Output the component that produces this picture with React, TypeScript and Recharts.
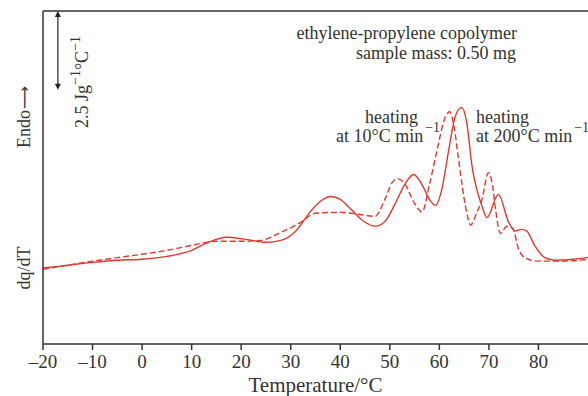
import React from 'react';
import { LineChart, Line, XAxis, YAxis, ReferenceLine } from 'recharts';

// temperature (°C) and dq/dT (J g-1 °C-1, arbitrary offset)
const slowTemps = [-20, -15, -10, -5, 0, 5, 10, 13, 17, 21, 25, 28, 31, 34, 36, 38, 40, 42, 44.5, 47, 49, 51, 53, 54.8, 56.5, 58, 59.2, 60.5, 61.9, 63.2, 64.5, 65.5, 66.6, 68.6, 69.6, 71.9, 74, 75.3, 76.5, 77.6, 79.3, 81.3, 83.4, 87, 90];
const slowValues = [2.41, 2.5, 2.59, 2.66, 2.69, 2.78, 2.97, 3.2, 3.39, 3.32, 3.23, 3.29, 3.58, 4.21, 4.53, 4.68, 4.59, 4.3, 3.92, 3.74, 3.89, 4.43, 5.06, 5.38, 5.06, 4.59, 4.4, 4.91, 6.17, 7.22, 7.51, 7.05, 5.64, 4.38, 4.01, 4.75, 3.86, 3.59, 3.64, 3.59, 3.11, 2.74, 2.66, 2.69, 2.75];

const fastTemps = [-20, -15, -10, -5, 0, 5, 10, 15, 20, 24, 28, 32, 35, 40, 44, 47, 49, 50.5, 51.5, 53, 55, 56.5, 58, 59.6, 61, 62.1, 63, 63.8, 65.4, 66.3, 67.5, 68.6, 69.9, 70.7, 71.4, 72.3, 73.6, 74.8, 76, 77.5, 80, 85, 90];
const fastValues = [2.37, 2.5, 2.63, 2.74, 2.85, 2.97, 3.13, 3.26, 3.26, 3.29, 3.54, 3.86, 4.15, 4.18, 4.11, 4.05, 4.59, 5.13, 5.25, 5.09, 4.46, 4.19, 5.06, 6.2, 7.12, 7.37, 6.87, 5.95, 4.27, 3.77, 4.15, 4.59, 5.44, 5.06, 4.21, 3.51, 3.73, 3.67, 3.01, 2.72, 2.63, 2.63, 2.69];

const xTicks = [-20, -10, 0, 10, 20, 30, 40, 50, 60, 70, 80];
const yMax = 10.57;
const scaleBar = 2.5;

const slowData = slowTemps.map((t, i) => ({ t, v: slowValues[i] }));
const fastData = fastTemps.map((t, i) => ({ t, v: fastValues[i] }));

const RED = '#e8352d';
const INK = '#333';
const FONT = '"Liberation Serif", "DejaVu Serif", serif';

const ScaleArrow = (props: any) => {
  const { x1, y1, x2, y2 } = props;
  const h = 6;
  const w = 3;
  const top = Math.min(y1, y2);
  const bot = Math.max(y1, y2);
  return (
    <g>
      <line x1={x1} y1={top + 2} x2={x2} y2={bot - 2} stroke="#222" strokeWidth={1.2} />
      <polygon points={`${x1},${top} ${x1 - w},${top + h} ${x1 + w},${top + h}`} fill="#222" />
      <polygon points={`${x1},${bot} ${x1 - w},${bot - h} ${x1 + w},${bot - h}`} fill="#222" />
    </g>
  );
};

export default function App() {
  return (
    <div style={{ position: 'absolute', left: 0, top: 0, width: 588, height: 396, background: '#fff', fontFamily: FONT }}>
      <LineChart width={588} height={396} margin={{ top: 11, right: 0, bottom: 0, left: 0 }}>
        <XAxis
          dataKey="t"
          type="number"
          domain={[-20, 90]}
          ticks={xTicks}
          allowDataOverflow
          tickFormatter={(v) => (v < 0 ? `\u2013${-v}` : `${v}`)}
          tick={{ fill: '#333', fontSize: 19, fontFamily: FONT }}
          tickSize={6}
          tickMargin={5}
          stroke={INK}
          strokeWidth={1.5}
          height={52}
          label={{ value: 'Temperature/°C', position: 'insideBottom', offset: 4, fill: '#333', fontSize: 21, fontFamily: FONT }}
        />
        <YAxis type="number" domain={[0, yMax]} width={43} tick={false} tickLine={false} stroke={INK} strokeWidth={1.5} allowDataOverflow />
        <ReferenceLine y={yMax} stroke={INK} strokeWidth={1.5} />
        <ReferenceLine
          segment={[{ x: -17, y: yMax }, { x: -17, y: yMax - scaleBar }]}
          shape={<ScaleArrow />}
        />
        <Line data={fastData} dataKey="v" type="monotone" stroke={RED} strokeWidth={1.4} strokeDasharray="6 3" dot={false} isAnimationActive={false} />
        <Line data={slowData} dataKey="v" type="monotone" stroke={RED} strokeWidth={1.4} dot={false} isAnimationActive={false} />
      </LineChart>
      <svg width={588} height={396} style={{ position: 'absolute', left: 0, top: 0, pointerEvents: 'none' }} fontFamily={FONT} fill="#333">
        <text x={517} y={39} fontSize={18} textAnchor="end">ethylene-propylene copolymer</text>
        <text x={516} y={59} fontSize={18} textAnchor="end">sample mass: 0.50 mg</text>
        <text x={418} y={123} fontSize={18} textAnchor="end">heating</text>
        <text x={336} y={142} fontSize={18}>
          at 10°C min<tspan fontSize={14} dy={-10} dx={2}>−1</tspan>
        </text>
        <text x={476} y={123} fontSize={18}>heating</text>
        <text x={476} y={142} fontSize={18}>
          at 200°C min<tspan fontSize={14} dy={-10} dx={2}>−1</tspan>
        </text>
        <text transform="translate(88,128) rotate(-90)" fontSize={18}>
          2.5 Jg<tspan fontSize={14} dy={-8}>−1</tspan>
          <tspan dy={8}>°C</tspan>
          <tspan fontSize={14} dy={-8}>−1</tspan>
        </text>
        <text transform="translate(30,148) rotate(-90)" fontSize={18}>
          Endo<tspan fontFamily='"DejaVu Sans", sans-serif' fontSize={16} dx={1}>⟶</tspan>
        </text>
        <text transform="translate(30,268) rotate(-90)" fontSize={18} textAnchor="middle">dq/dT</text>
      </svg>
    </div>
  );
}
